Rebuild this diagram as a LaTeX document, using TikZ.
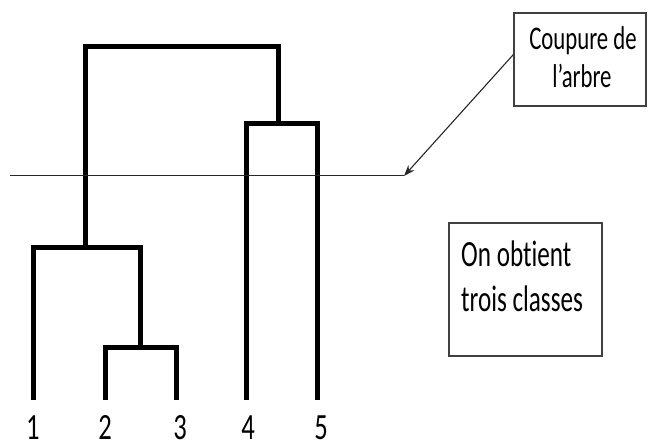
\documentclass[tikz,border=0pt]{standalone}
\usepackage{fontspec}
\setmainfont{Carlito}[Ligatures=NoCommon]
\usetikzlibrary{arrows.meta}
\begin{document}
\begin{tikzpicture}[x=1bp,y=-1bp,
  branch/.style={line width=5bp,line cap=rect,line join=miter},
  cutline/.style={line width=1bp,black!85},
  labelbox/.style={draw=black!75,line width=1.2bp,inner sep=0pt},
  leaflabel/.style={font=\fontsize{37bp}{38bp}\selectfont,inner sep=0pt,anchor=base},
  cuttextstyle/.style={font=\fontsize{33bp}{38bp}\selectfont,inner sep=0pt,anchor=base},
  restextstyle/.style={font=\fontsize{37bp}{45bp}\selectfont,inner sep=0pt,anchor=base west}]
\useasboundingbox (0,0) rectangle (648,448);
% leaves (bottom ends)
\coordinate (b1) at (33,397);
\coordinate (b2) at (105,397);
\coordinate (b3) at (176,397);
\coordinate (b4) at (246,397);
\coordinate (b5) at (317,397);
% merge heights
\coordinate (t1) at (33,248);
\coordinate (t2) at (105,347);
\coordinate (t3) at (176,347);
\coordinate (t4) at (246,124);
\coordinate (t5) at (317,124);
\coordinate (m23) at (140,347);
\coordinate (m23t) at (140,248);
\coordinate (m123) at (85,248);
\coordinate (m123t) at (85,47);
\coordinate (m45) at (278,124);
\coordinate (m45t) at (278,47);
% dendrogram
\draw[branch] (b2) -- (t2) -- (t3) -- (b3);
\draw[branch] (m23) -- (m23t);
\draw[branch] (b1) -- (t1) -- (m23t);
\draw[branch] (b4) -- (t4) -- (t5) -- (b5);
\draw[branch] (m123) -- (m123t) -- (m45t) -- (m45);
% cut line
\coordinate (cutL) at (10,176);
\coordinate (cutR) at (404,176);
\draw[cutline] (cutL) -- (cutR);
% leaf labels
\node[leaflabel] (n1) at (33,439) {\scalebox{0.72}[1]{1}};
\node[leaflabel] (n2) at (105,439) {\scalebox{0.72}[1]{2}};
\node[leaflabel] (n3) at (180,439) {\scalebox{0.72}[1]{3}};
\node[leaflabel] (n4) at (248,439) {\scalebox{0.72}[1]{4}};
\node[leaflabel] (n5) at (321,439) {\scalebox{0.72}[1]{5}};
% annotation boxes
\node[labelbox,minimum width=132bp,minimum height=93bp] (cutbox) at (580,59.5) {};
\node[cuttextstyle] (cut1) at (583,50) {\scalebox{0.69}[1]{Coupure de}};
\node[cuttextstyle] (cut2) at (582,88) {\scalebox{0.69}[1]{l’arbre}};
\node[labelbox,minimum width=153bp,minimum height=133bp] (resbox) at (525.5,289.5) {};
\node[restextstyle] (res1) at (461,267) {\scalebox{0.68}[1]{On obtient}};
\node[restextstyle] (res2) at (461,312) {\scalebox{0.68}[1]{trois classes}};
% arrow from the box to the cut line
\coordinate (arrS) at ([yshift=5bp]cutbox.west);
\draw[line width=1.1bp,black!85,-{Stealth[length=11bp,width=8bp]}] (arrS) -- (cutR);
\end{tikzpicture}
\end{document}
